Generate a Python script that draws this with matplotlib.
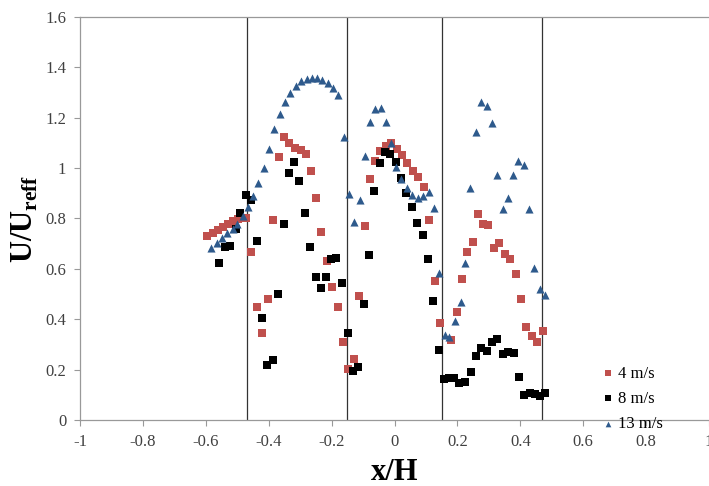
import matplotlib
matplotlib.use("Agg")
import matplotlib.pyplot as plt

# 13 m/s (blue triangles)
x_13 = [-0.583, -0.566, -0.549, -0.532, -0.515, -0.500, -0.483, -0.466, -0.450, -0.434,
        -0.416, -0.399, -0.382, -0.365, -0.348, -0.331, -0.314, -0.297, -0.280, -0.263,
        -0.247, -0.230, -0.213, -0.196, -0.179, -0.162, -0.145, -0.130, -0.111, -0.095,
        -0.078, -0.061, -0.044, -0.028, -0.011, 0.006, 0.022, 0.040, 0.056, 0.074,
        0.090, 0.108, 0.124, 0.141, 0.159, 0.172, 0.192, 0.210, 0.225, 0.241,
        0.260, 0.276, 0.293, 0.310, 0.327, 0.344, 0.362, 0.378, 0.394, 0.412,
        0.428, 0.445, 0.463, 0.479]
y_13 = [0.684, 0.704, 0.721, 0.741, 0.757, 0.777, 0.811, 0.847, 0.889, 0.940,
        1.000, 1.077, 1.154, 1.213, 1.261, 1.298, 1.326, 1.346, 1.354, 1.359,
        1.356, 1.350, 1.339, 1.320, 1.290, 1.122, 0.897, 0.787, 0.873, 1.050,
        1.184, 1.233, 1.237, 1.184, 1.100, 1.003, 0.955, 0.920, 0.893, 0.880,
        0.889, 0.904, 0.843, 0.585, 0.336, 0.328, 0.392, 0.470, 0.622, 0.922,
        1.145, 1.261, 1.246, 1.180, 0.973, 0.836, 0.881, 0.973, 1.028, 1.012,
        0.836, 0.602, 0.519, 0.496]

# 4 m/s (red squares)
x_4 = [-0.596, -0.578, -0.562, -0.546, -0.530, -0.514, -0.498, -0.471, -0.455, -0.437,
       -0.422, -0.403, -0.387, -0.369, -0.352, -0.336, -0.317, -0.299, -0.283, -0.267,
       -0.249, -0.233, -0.215, -0.198, -0.180, -0.164, -0.148, -0.130, -0.113, -0.095,
       -0.079, -0.062, -0.045, -0.026, -0.010, 0.008, 0.024, 0.041, 0.059, 0.076,
       0.094, 0.110, 0.128, 0.145, 0.179, 0.197, 0.214, 0.231, 0.248, 0.266,
       0.282, 0.298, 0.316, 0.333, 0.351, 0.367, 0.385, 0.402, 0.419, 0.436,
       0.453, 0.471]
y_4 = [0.730, 0.743, 0.754, 0.766, 0.779, 0.790, 0.799, 0.803, 0.668, 0.450,
       0.345, 0.480, 0.794, 1.045, 1.122, 1.100, 1.080, 1.070, 1.056, 0.987,
       0.880, 0.745, 0.632, 0.527, 0.449, 0.310, 0.201, 0.240, 0.492, 0.770,
       0.957, 1.030, 1.069, 1.089, 1.098, 1.075, 1.052, 1.022, 0.990, 0.963,
       0.924, 0.794, 0.553, 0.385, 0.319, 0.428, 0.561, 0.666, 0.705, 0.818,
       0.779, 0.773, 0.683, 0.701, 0.659, 0.640, 0.580, 0.480, 0.369, 0.333,
       0.308, 0.355]

# 8 m/s (black squares)
x_8 = [-0.558, -0.540, -0.522, -0.505, -0.490, -0.471, -0.456, -0.438, -0.422, -0.405,
       -0.387, -0.370, -0.351, -0.337, -0.320, -0.303, -0.286, -0.268, -0.251, -0.234,
       -0.217, -0.201, -0.185, -0.166, -0.149, -0.132, -0.116, -0.098, -0.081, -0.065,
       -0.045, -0.030, -0.014, 0.005, 0.022, 0.037, 0.055, 0.072, 0.090, 0.106,
       0.123, 0.141, 0.156, 0.172, 0.189, 0.205, 0.224, 0.242, 0.258, 0.276,
       0.293, 0.310, 0.327, 0.344, 0.362, 0.379, 0.395, 0.413, 0.430, 0.447,
       0.463, 0.480]
y_8 = [0.624, 0.688, 0.692, 0.757, 0.820, 0.893, 0.873, 0.712, 0.406, 0.217,
       0.238, 0.500, 0.778, 0.982, 1.024, 0.948, 0.820, 0.687, 0.566, 0.524,
       0.566, 0.638, 0.644, 0.543, 0.347, 0.194, 0.212, 0.460, 0.655, 0.909,
       1.019, 1.065, 1.055, 1.026, 0.959, 0.902, 0.844, 0.780, 0.734, 0.638,
       0.471, 0.278, 0.163, 0.165, 0.165, 0.146, 0.152, 0.190, 0.254, 0.285,
       0.275, 0.311, 0.320, 0.262, 0.270, 0.265, 0.170, 0.098, 0.106, 0.102,
       0.095, 0.106]

v_lines = [-0.47, -0.15, 0.15, 0.47]
x_ticks = [-1, -0.8, -0.6, -0.4, -0.2, 0, 0.2, 0.4, 0.6, 0.8, 1]
x_tick_labels = ["-1", "-0.8", "-0.6", "-0.4", "-0.2", "0", "0.2", "0.4", "0.6", "0.8", "1"]
y_ticks = [0, 0.2, 0.4, 0.6, 0.8, 1.0, 1.2, 1.4, 1.6]
y_tick_labels = ["0", "0.2", "0.4", "0.6", "0.8", "1", "1.2", "1.4", "1.6"]

plt.rcParams["font.family"] = "Liberation Serif"
plt.rcParams["mathtext.fontset"] = "custom"
plt.rcParams["mathtext.rm"] = "Liberation Serif"
plt.rcParams["mathtext.bf"] = "Liberation Serif:bold"

fig = plt.figure(figsize=(7.09, 4.86), dpi=100)
ax = fig.add_axes([0.113, 0.136, 0.887, 0.829])

for xv in v_lines:
    ax.axvline(xv, color="#333333", lw=0.9, zorder=1)

ax.scatter(x_4, y_4, marker="s", s=30, color="#C0504D", label="4 m/s", zorder=3, linewidths=0)
ax.scatter(x_8, y_8, marker="s", s=30, color="black", label="8 m/s", zorder=3, linewidths=0)
ax.scatter(x_13, y_13, marker="^", s=34, color="#2E5A8C", label="13 m/s", zorder=3, linewidths=0)

ax.set_xlim(-1, 1)
ax.set_ylim(0, 1.6)
ax.set_xticks(x_ticks)
ax.set_xticklabels(x_tick_labels)
ax.set_yticks(y_ticks)
ax.set_yticklabels(y_tick_labels)
ax.tick_params(direction="out", length=4, width=0.8, color="#999999",
               labelsize=12, labelcolor="#404040", pad=6)

for side in ["left", "bottom", "top"]:
    ax.spines[side].set_color("#999999")
    ax.spines[side].set_linewidth(0.9)
ax.spines["right"].set_visible(False)

ax.set_xlabel("x/H", fontsize=22, fontweight="bold", labelpad=6)
ax.set_ylabel(r"U/U$_{\mathbf{reff}}$", fontsize=22, fontweight="bold", labelpad=4)

fig.legend(loc="upper left", bbox_to_anchor=(0.836, 0.265), frameon=False,
           fontsize=12, handletextpad=0.2, handlelength=0.8, labelspacing=0.55,
           borderpad=0, markerscale=0.7)

fig.savefig("out.png", dpi=100)
